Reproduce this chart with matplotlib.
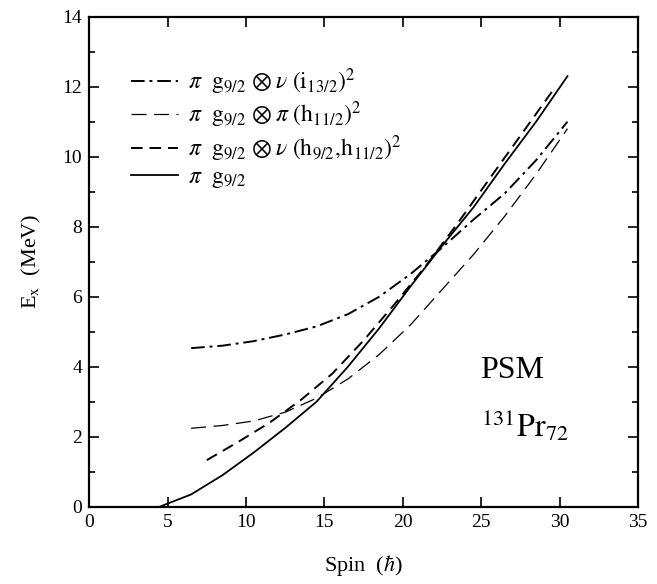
import matplotlib
matplotlib.use('Agg')
import matplotlib.pyplot as plt
from matplotlib.ticker import MultipleLocator

plt.rcParams['font.family'] = ['Liberation Serif', 'DejaVu Serif']
plt.rcParams['mathtext.fontset'] = 'stix'

# values (spin in hbar, energy in MeV)
spin_g = [4.5, 6.5, 8.5, 10.5, 12.5, 14.5, 16.5, 18.5, 20.5, 22.5, 24.5, 26.5, 28.5, 30.5]
e_g = [0.0, 0.35, 0.9, 1.55, 2.25, 3.0, 4.0, 5.1, 6.3, 7.45, 8.55, 9.8, 11.0, 12.3]

spin_i13 = [6.5, 8.5, 10.5, 12.5, 14.5, 16.5, 18.5, 20.5, 22.5, 24.5, 26.5, 28.5, 30.5]
e_i13 = [4.53, 4.6, 4.73, 4.92, 5.15, 5.5, 6.0, 6.65, 7.4, 8.2, 8.95, 9.9, 11.0]

spin_ph11 = [6.5, 8.5, 10.5, 12.5, 14.5, 16.5, 18.5, 20.5, 22.5, 24.5, 26.5, 28.5, 30.5]
e_ph11 = [2.24, 2.32, 2.45, 2.7, 3.1, 3.65, 4.35, 5.2, 6.2, 7.2, 8.3, 9.5, 10.8]

spin_nh = [7.5, 9.5, 11.5, 13.5, 15.5, 17.5, 19.5, 21.5, 23.5, 25.5, 27.5, 29.5]
e_nh = [1.33, 1.85, 2.4, 3.05, 3.8, 4.75, 5.8, 6.9, 8.1, 9.35, 10.6, 11.85]

labels = [
    r'$\pi\ \ \mathrm{g}_{9/2}\,\otimes\nu\ (\mathrm{i}_{13/2})^2$',
    r'$\pi\ \ \mathrm{g}_{9/2}\,\otimes\pi\ (\mathrm{h}_{11/2})^2$',
    r'$\pi\ \ \mathrm{g}_{9/2}\,\otimes\nu\ (\mathrm{h}_{9/2},\!\mathrm{h}_{11/2})^2$',
    r'$\pi\ \ \mathrm{g}_{9/2}$',
]

fig = plt.figure(figsize=(6.57, 5.84), dpi=100)
ax = fig.add_axes([0.1358, 0.1324, 0.8353, 0.839])

ax.plot(spin_i13, e_i13, color='black', lw=1.4, dashes=(7, 2.5, 1.5, 2.5), label=labels[0])
ax.plot(spin_ph11, e_ph11, color='black', lw=0.9, dashes=(12, 6), label=labels[1])
ax.plot(spin_nh, e_nh, color='black', lw=1.4, dashes=(6, 3.5), label=labels[2])
ax.plot(spin_g, e_g, color='black', lw=1.3, label=labels[3])

ax.set_xlim(0, 35)
ax.set_ylim(0, 14)
ax.xaxis.set_major_locator(MultipleLocator(5))
ax.yaxis.set_major_locator(MultipleLocator(2))
ax.yaxis.set_minor_locator(MultipleLocator(1))
ax.tick_params(which='both', direction='in', top=True, right=True, width=1.2, labelsize=14, pad=5)
ax.tick_params(which='major', length=7)
ax.tick_params(which='minor', length=4)
for s in ax.spines.values():
    s.set_linewidth(1.6)

ax.set_xlabel(r'Spin  ($\hbar$)', fontsize=16, labelpad=16)
ax.set_ylabel(r'E$_\mathrm{x}$  (MeV)', fontsize=16, labelpad=14)

ax.text(27.0, 3.68, 'PSM', fontsize=23, ha='center', va='baseline')
ax.text(25.0, 2.0, r'$^{131}\mathrm{Pr}_{72}$', fontsize=23, ha='left', va='baseline')

ax.legend(loc='upper left', bbox_to_anchor=(0.059, 0.918), frameon=False, fontsize=17,
          handlelength=2.0, handletextpad=0.4, labelspacing=0.12, borderaxespad=0)

fig.savefig('out.png', dpi=100)
